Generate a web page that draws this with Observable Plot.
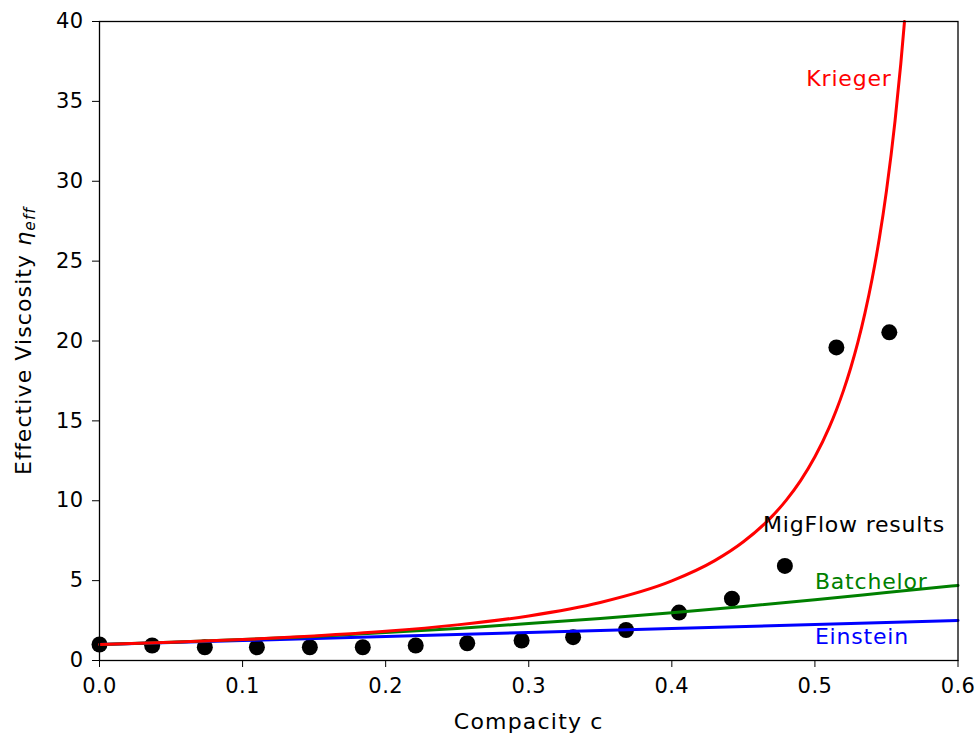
<!DOCTYPE html>
<html>
<head>
<meta charset="utf-8">
<script src="https://cdn.jsdelivr.net/npm/d3@7"></script>
<script src="https://cdn.jsdelivr.net/npm/@observablehq/plot@0.6"></script>
<style>
  body { margin: 0; background: #fff; }
  #chart svg text { letter-spacing: 0.4px; }
</style>
</head>
<body>
<div id="chart"></div>
<script>
// MigFlow simulation results
const migflowC = [0, 0.0368, 0.0736, 0.110, 0.147, 0.184, 0.221, 0.257, 0.295, 0.331, 0.368, 0.405, 0.442, 0.479, 0.515, 0.552];
const migflowV = [1.0, 0.94, 0.83, 0.83, 0.83, 0.83, 0.94, 1.08, 1.25, 1.46, 1.91, 3.0, 3.87, 5.92, 19.6, 20.54];

// Krieger curve
const kriegerC = [0, 0.05, 0.1, 0.15, 0.2, 0.25, 0.3, 0.35, 0.4, 0.43, 0.45, 0.47, 0.48, 0.49, 0.5, 0.51, 0.515, 0.52, 0.525, 0.53, 0.535, 0.54, 0.545, 0.55, 0.556, 0.56, 0.5626];
const kriegerV = [1, 1.14, 1.31, 1.54, 1.83, 2.23, 2.79, 3.63, 4.98, 6.25, 7.43, 9.02, 10.04, 11.26, 12.75, 14.59, 15.68, 16.91, 18.31, 19.91, 21.76, 23.90, 26.41, 29.40, 33.78, 37.34, 40];

// Batchelor curve
const batchelorC = [0, 0.05, 0.1, 0.15, 0.2, 0.25, 0.3, 0.35, 0.4, 0.45, 0.5, 0.55, 0.6];
const batchelorV = [1, 1.14, 1.31, 1.51, 1.75, 2.01, 2.31, 2.63, 2.99, 3.38, 3.8, 4.25, 4.7];

// Einstein curve
const einsteinC = [0, 0.1, 0.2, 0.3, 0.4, 0.5, 0.6];
const einsteinV = [1, 1.25, 1.5, 1.75, 2, 2.25, 2.5];

// Annotations
const labelText = ["Krieger", "MigFlow results", "Batchelor", "Einstein"];
const labelC = [0.494, 0.4637, 0.5, 0.5];
const labelV = [36.4, 8.46, 4.9, 1.45];

// Ticks
const xTicks = [0, 0.1, 0.2, 0.3, 0.4, 0.5, 0.6];
const yTicks = [0, 5, 10, 15, 20, 25, 30, 35, 40];

const xLabel = "Compacity c";
const yLabel = "Effective Viscosity ηeff";

// Styles
const labelColors = ["red", "black", "green", "blue"];

const plot = Plot.plot({
  width: 977,
  height: 737,
  marginLeft: 99,
  marginRight: 19.5,
  marginTop: 21,
  marginBottom: 77,
  style: { fontFamily: "DejaVu Sans", fontSize: "21px", color: "black", background: "white" },
  x: { domain: [0, 0.6], ticks: xTicks, tickFormat: d3.format(".1f"), tickSize: 7, tickPadding: 11, label: null },
  y: { domain: [0, 40], ticks: yTicks, tickFormat: d3.format("d"), tickSize: 7, tickPadding: 9, label: null },
  marks: [
    Plot.dot(migflowC, { x: migflowC, y: migflowV, r: 8, fill: "black", stroke: "none" }),
    Plot.line(einsteinC, { x: einsteinC, y: einsteinV, stroke: "blue", strokeWidth: 3 }),
    Plot.line(batchelorC, { x: batchelorC, y: batchelorV, stroke: "green", strokeWidth: 3, curve: "monotone-x" }),
    Plot.line(kriegerC, { x: kriegerC, y: kriegerV, stroke: "red", strokeWidth: 3, curve: "monotone-x" }),
    Plot.frame({ stroke: "black", strokeWidth: 1.3 }),
    Plot.text(labelText, { x: labelC, y: labelV, text: labelText, fill: labelColors, textAnchor: "start", lineAnchor: "middle", fontSize: 22 }),
    Plot.text([xLabel], { frameAnchor: "bottom", text: d => d, dy: 61, textAnchor: "middle", lineAnchor: "middle", fontSize: 22, fill: "black" }),
    Plot.text([yLabel], { frameAnchor: "left", text: d => d, dx: -76, rotate: -90, textAnchor: "middle", lineAnchor: "middle", fontSize: 22, fill: "black" })
  ]
});

document.getElementById("chart").appendChild(plot);

const svg = d3.select(plot);
const byText = s => svg.selectAll("text").filter(function () { return this.textContent === s; });
labelText.forEach(s => byText(s).style("letter-spacing", "0.8px"));
byText(xLabel).style("letter-spacing", "1.2px");
byText(yLabel).each(function () {
  const el = d3.select(this);
  el.style("letter-spacing", "1.1px");
  el.text(null);
  el.append("tspan").text("Effective Viscosity ");
  el.append("tspan").attr("font-style", "italic").text("η");
  el.append("tspan").attr("font-style", "italic").attr("font-size", "0.7em").attr("dy", "0.3em").text("eff");
});
</script>
</body>
</html>
